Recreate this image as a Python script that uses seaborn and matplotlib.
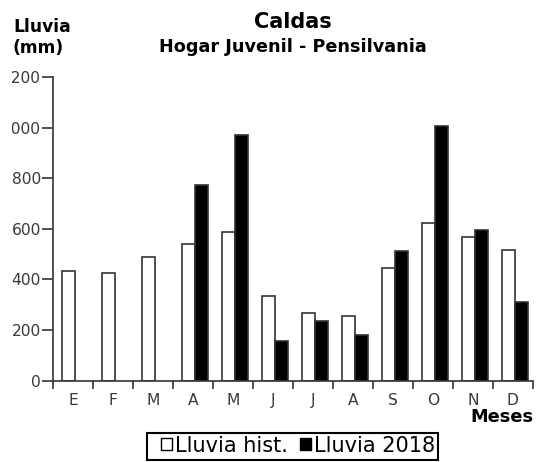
import numpy as np
import pandas as pd
import seaborn as sns
import matplotlib
matplotlib.use("Agg")
import matplotlib.pyplot as plt
from matplotlib.patches import Patch, Rectangle
from matplotlib.transforms import Bbox, TransformedBbox

# Monthly rainfall (mm), Hogar Juvenil station, Pensilvania (Caldas)
meses = ["E", "F", "M", "A", "M", "J", "J", "A", "S", "O", "N", "D"]
lluvia_hist = [435, 425, 488, 541, 587, 335, 266, 256, 445, 624, 569, 516]
lluvia_2018 = [np.nan, np.nan, np.nan, 773, 969, 158, 237, 180, 512, 1005, 594, 312]
series = ["Lluvia hist.", "Lluvia 2018"]
y_ticks = [0, 200, 400, 600, 800, 1000, 1200]

df = pd.DataFrame({
    "idx": list(range(12)) * 2,
    "serie": [series[0]] * 12 + [series[1]] * 12,
    "lluvia": lluvia_hist + lluvia_2018,
})

sns.set_theme(style="white")
plt.rcParams["font.family"] = ["DejaVu Sans"]

ink = "#333333"
W, H = 540, 462
fig = plt.figure(figsize=(W / 100, H / 100), dpi=100)
ax = fig.add_axes([53.3 / W, 1 - 380.7 / H, (532.7 - 53.3) / W, (380.7 - 77) / H])

sns.barplot(data=df, x="idx", y="lluvia", hue="serie", hue_order=series,
            palette={series[0]: "white", series[1]: "black"},
            edgecolor=ink, linewidth=1.2, width=0.65, saturation=1,
            errorbar=None, legend=False, ax=ax)

# nudge the bar pairs slightly right inside each month slot
for p in ax.patches:
    p.set_x(p.get_x() + 0.055)

ax.set_xlim(-0.5, 11.5)
ax.set_ylim(0, 1200)
ax.set_xlabel("")
ax.set_ylabel("")

for s in ["top", "right"]:
    ax.spines[s].set_visible(False)
for s in ["left", "bottom"]:
    ax.spines[s].set_color(ink)
    ax.spines[s].set_linewidth(1.2)

ax.set_yticks(y_ticks)
ax.set_yticklabels([str(v) for v in y_ticks])
ax.tick_params(axis="y", direction="out", length=8, width=1.2, color=ink,
               pad=1, labelsize=11.2, labelcolor="#3a3a3a", left=True)

ax.set_xticks(range(12))
ax.set_xticklabels(meses)
ax.set_xticks(np.arange(-0.5, 12, 1), minor=True)
ax.tick_params(axis="x", which="major", length=0, pad=9, labelsize=11.2,
               labelcolor="#3a3a3a")
ax.tick_params(axis="x", which="minor", direction="out", length=6, width=1.2,
               color=ink, bottom=True)

# the page edge trims the leading digit of the widest labels
clip = TransformedBbox(Bbox([[11.6 / W, 0], [1, 1]]), fig.transFigure)
for lab in ax.get_yticklabels():
    lab.set_clip_box(clip)
    lab.set_clip_on(True)

ax_cx = (53.3 + 532.7) / 2 / W
fig.text(ax_cx, 1 - 28.5 / H, "Caldas", ha="center", va="baseline",
         fontsize=15, fontweight="bold", color="black")
fig.text(ax_cx, 1 - 52.5 / H, "Hogar Juvenil - Pensilvania", ha="center",
         va="baseline", fontsize=12.7, fontweight="bold", color="black")
fig.text(13 / W, 1 - 32 / H, "Lluvia", ha="left", va="baseline",
         fontsize=12.3, fontweight="bold", color="black")
fig.text(13 / W, 1 - 53.3 / H, "(mm)", ha="left", va="baseline",
         fontsize=12.3, fontweight="bold", color="black")
fig.text(533 / W, 1 - 422 / H, "Meses", ha="right", va="baseline",
         fontsize=12.8, fontweight="bold", color="black")

# legend: square swatches with labels, inside a plain black box
handles = [Patch(facecolor="white", edgecolor="black", linewidth=1),
           Patch(facecolor="black", edgecolor="black", linewidth=1)]
leg = fig.legend(handles, series, loc="center left", ncol=2,
                 bbox_to_anchor=(160.7 / W, 1 - 445.5 / H),
                 fontsize=15, frameon=False,
                 handlelength=0.54, handleheight=0.53, handletextpad=0.15,
                 columnspacing=0.58, borderpad=0, borderaxespad=0)
for t in leg.get_texts():
    t.set_color("black")
fig.add_artist(Rectangle((147.3 / W, 1 - 460 / H), (437.7 - 147.3) / W,
                         (460 - 433.3) / H, transform=fig.transFigure,
                         fill=False, edgecolor="black", linewidth=1.5))

fig.savefig("out.png", dpi=100)
